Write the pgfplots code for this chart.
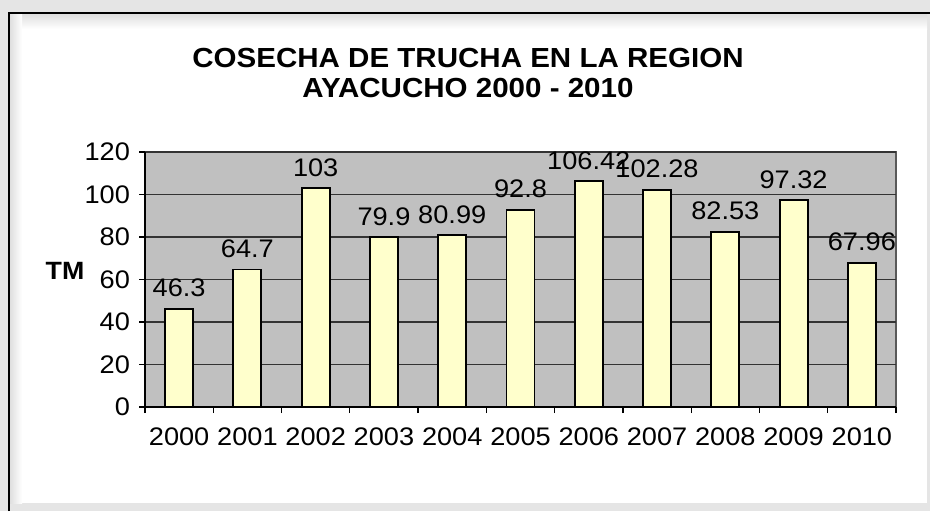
\documentclass[border=0pt]{standalone}
\usepackage{fontspec}
\setmainfont{Liberation Sans}[FakeStretch=1.07]
\usepackage{pgfplots}
\pgfplotsset{compat=1.18}
\definecolor{barfill}{HTML}{FFFFCC}
\definecolor{plotbg}{HTML}{C0C0C0}
\begin{document}
\begin{tikzpicture}
\begin{scope}[x=0.5pt,y=0.5pt]
\useasboundingbox (0,0) rectangle (930,511);
\fill[gray!20] (0,0) rectangle (930,511);
\fill[white] (9,8) rectangle (927,498);
\shade[top color=gray!25,bottom color=white] (10,482) rectangle (927,497);
\shade[left color=gray!25,right color=white] (10,8) rectangle (22,497);
\draw[black,line width=1pt] (9,0) -- (9,498) -- (930,498);
\end{scope}
\begin{axis}[
  at={(72.5pt,52pt)}, anchor=south west,
  scale only axis, width=375.5pt, height=127.5pt,
  xmin=-0.5, xmax=10.5, ymin=0, ymax=120,
  ytick={0,20,...,120},
  xtick={0,...,10},
  xticklabels={2000,2001,2002,2003,2004,2005,2006,2007,2008,2009,2010},
  minor xtick={-0.5,0.5,...,10.5},
  major x tick style={draw=none},
  minor tick length=3pt, major tick length=3pt,
  tick align=outside,
  axis x line*=bottom, axis y line*=left,
  axis line style={black,line width=0.6pt,-},
  every tick/.style={black,line width=0.6pt},
  axis background/.style={fill=plotbg,draw=gray!70!black,line width=0.8pt},
  ymajorgrids, grid style={black!80,line width=0.6pt},
  ticklabel style={font=\fontsize{12.7}{14}\selectfont},
  /pgf/number format/assume math mode=true,
  xticklabel style={yshift=-4pt},
  yticklabel style={xshift=-1pt},
  ybar, bar width=0.41,
  nodes near coords,
  every node near coord/.append style={font=\fontsize{12.7}{14}\selectfont,yshift=2pt},
  point meta=explicit symbolic,
  clip=false,
]
\addplot[fill=barfill,draw=black,line width=0.95pt] table[meta=lab] {
x y lab
0 46.3 46.3
1 64.7 64.7
2 103 103
3 79.9 79.9
4 80.99 80.99
5 92.8 92.8
6 106.42 106.42
7 102.28 102.28
8 82.53 82.53
9 97.32 97.32
10 67.96 67.96
};
\end{axis}
\begin{scope}[x=0.5pt,y=0.5pt]
\node[font=\fontsize{12.5}{14}\selectfont\bfseries] at (65,240) {TM};
\node[align=center,font=\fontsize{13.8}{15}\selectfont\bfseries] at (468,438) {COSECHA DE TRUCHA EN LA REGION\\AYACUCHO 2000 - 2010};
\end{scope}
\end{tikzpicture}
\end{document}
